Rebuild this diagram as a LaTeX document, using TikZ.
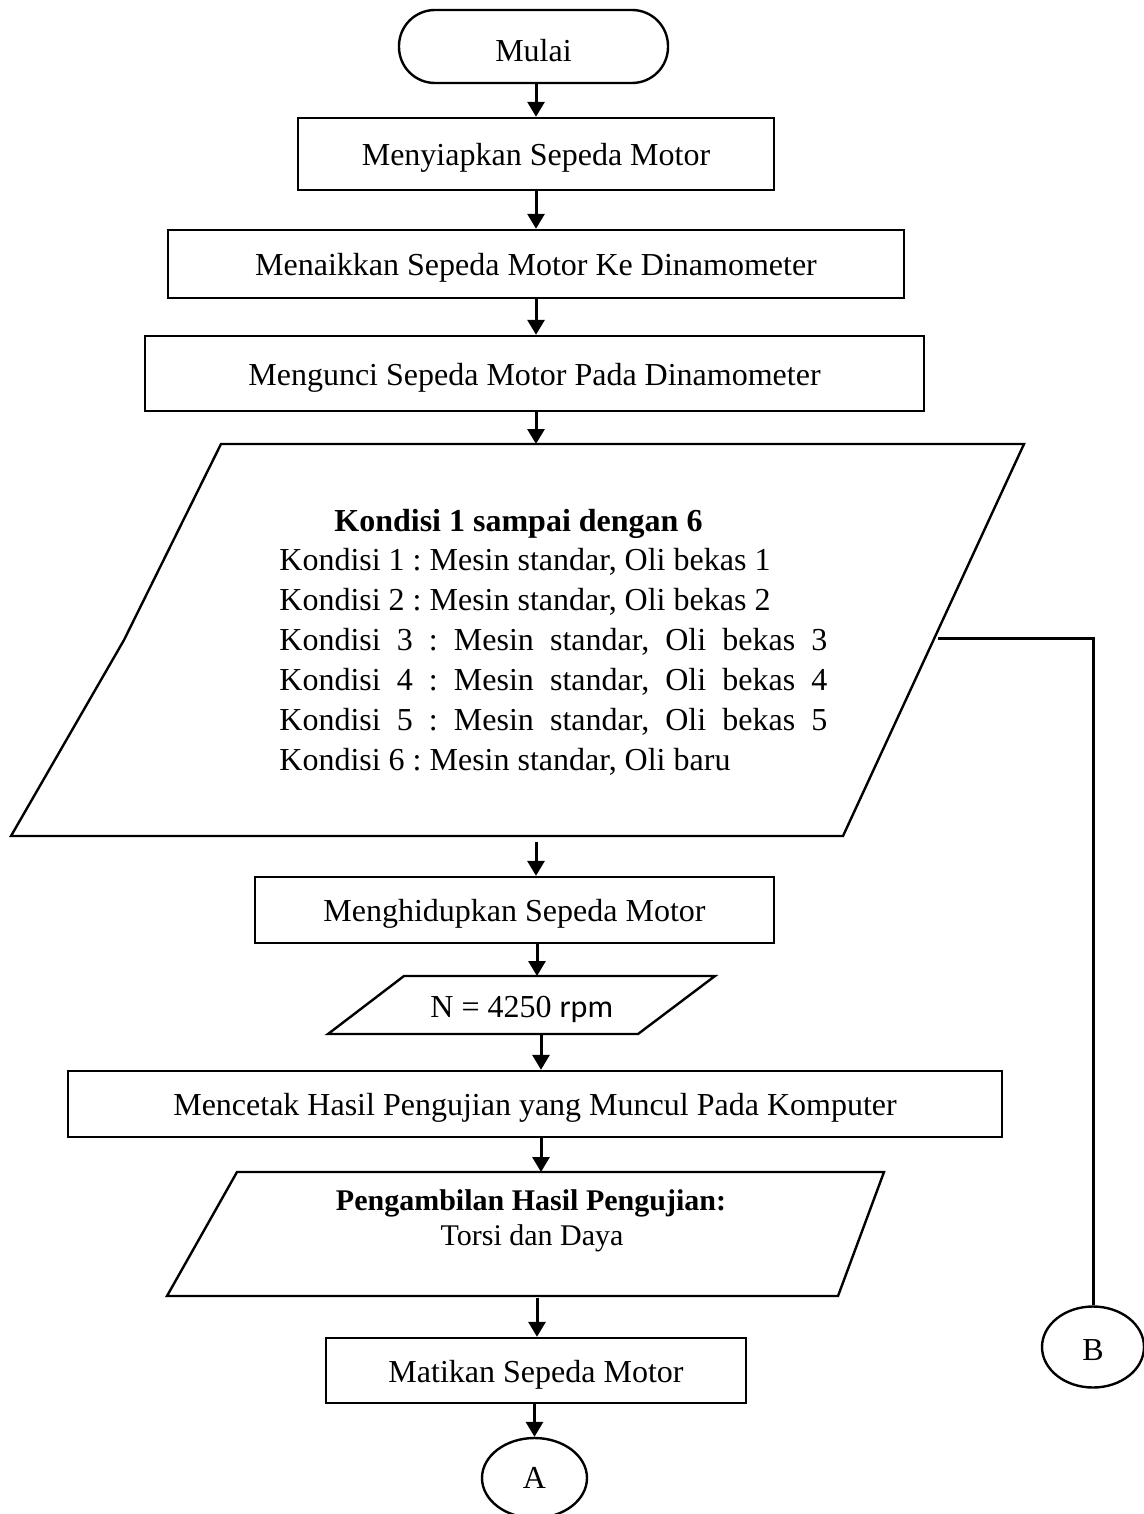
\documentclass[tikz,border=0pt]{standalone}
\usepackage{fontspec}
\setmainfont{Liberation Serif}
\newfontfamily\calibri{Carlito}
\usetikzlibrary{arrows.meta,shapes.geometric}
\frenchspacing

\begin{document}
\begin{tikzpicture}[x=0.5pt,y=-0.5pt,
  every node/.style={inner sep=0pt, font=\fontsize{16}{19}\selectfont},
  procbox/.style={draw, line width=1.2pt, rectangle, text height=13pt, text depth=1.5pt},
  termbox/.style={draw, line width=1.2pt, rectangle, rounded corners=18pt},
  connbox/.style={draw, line width=1.2pt, ellipse},
  iobox/.style={draw, line width=1.2pt, line join=miter},
  arr/.style={line width=1.5pt, -{Triangle[length=7.5pt,width=8.5pt]}},
  link/.style={line width=1.5pt, line join=miter},
  txt/.style={anchor=base west},
  smalltxt/.style={anchor=base, font=\fontsize{15}{18}\selectfont}]
\useasboundingbox (0,0) rectangle (1144,1514);

% process steps
\node[termbox, minimum width=134.5pt, minimum height=36.5pt] (mulai) at (533.5,46.5) {};
\node (mulaitxt) at (533.5,51) {Mulai};
\node[procbox, minimum width=238pt, minimum height=36pt] (siap) at (536,154) {Menyiapkan Sepeda Motor};
\node[procbox, minimum width=368pt, minimum height=34pt] (naik) at (536,264) {Menaikkan Sepeda Motor Ke Dinamometer};
\node[procbox, minimum width=389.5pt, minimum height=37.5pt] (kunci) at (534.5,373.5) {Mengunci Sepeda Motor Pada Dinamometer};

% input block with the six conditions
\draw[iobox] (221,444) -- (1024,444) -- (843,836) -- (11,836) -- (124,640) -- cycle;
\coordinate (kin) at (536,444);
\coordinate (kout) at (536,842);
\coordinate (kright) at (938,638);
\node[txt, font=\fontsize{16}{19}\selectfont\bfseries] (ktitle) at (334,531) {Kondisi 1 sampai dengan 6};
\node[txt] (k1) at (279,570) {Kondisi 1 : Mesin standar, Oli bekas 1};
\node[txt] (k2) at (279,610) {Kondisi 2 : Mesin standar, Oli bekas 2};
\node[txt] (k3) at (279,650) {\makebox[274pt][s]{Kondisi 3 : Mesin standar, Oli bekas 3}};
\node[txt] (k4) at (279,690) {\makebox[274pt][s]{Kondisi 4 : Mesin standar, Oli bekas 4}};
\node[txt] (k5) at (279,730) {\makebox[274pt][s]{Kondisi 5 : Mesin standar, Oli bekas 5}};
\node[txt] (k6) at (279,770) {Kondisi 6 : Mesin standar, Oli baru};

\node[procbox, minimum width=259.5pt, minimum height=33pt] (hidup) at (514.5,910) {Menghidupkan Sepeda Motor};

% engine speed input
\draw[iobox] (404,976) -- (715,976) -- (638,1034) -- (328,1034) -- cycle;
\coordinate (nin) at (537,976);
\coordinate (nout) at (541,1034);
\node[txt] (rpm) at (430,1017) {N = 4250 {\calibri rpm}};

\node[procbox, minimum width=467pt, minimum height=33pt] (cetak) at (535,1104) {Mencetak Hasil Pengujian yang Muncul Pada Komputer};

% output block
\draw[iobox] (237,1172) -- (884,1172) -- (838,1296) -- (167,1296) -- cycle;
\coordinate (hin) at (541,1172);
\coordinate (hout) at (537,1298);
\node[smalltxt, font=\fontsize{15}{18}\selectfont\bfseries] (htitle) at (531,1210) {Pengambilan Hasil Pengujian:};
\node[smalltxt] (hsub) at (532,1245) {Torsi dan Daya};

\node[procbox, minimum width=210pt, minimum height=32.5pt] (mati) at (536,1370.5) {Matikan Sepeda Motor};

% off-page connectors
\node[connbox, minimum width=52.5pt, minimum height=40pt] (A) at (534.5,1478) {A};
\node[connbox, minimum width=51pt, minimum height=40.5pt] (B) at (1093,1347) {};
\node (Btxt) at (1093,1350) {B};

% flow
\coordinate (ax) at (536,0);
\draw[arr] (mulai.south -| ax) -- (siap.north -| ax);
\draw[arr] (siap.south -| ax) -- (naik.north -| ax);
\draw[arr] (naik.south -| ax) -- (kunci.north -| ax);
\draw[arr] (kunci.south -| kin) -- (kin);
\draw[arr] (kout) -- (hidup.north -| kout);
\draw[arr] (hidup.south -| nin) -- (nin);
\draw[arr] (nout) -- (cetak.north -| nout);
\draw[arr] (cetak.south -| hin) -- (hin);
\draw[arr] (hout) -- (mati.north -| hout);
\draw[arr] (mati.south -| A.north) -- (A.north);
\draw[link] (kright) -- (kright -| B.north) -- (B.north);
\end{tikzpicture}
\end{document}
